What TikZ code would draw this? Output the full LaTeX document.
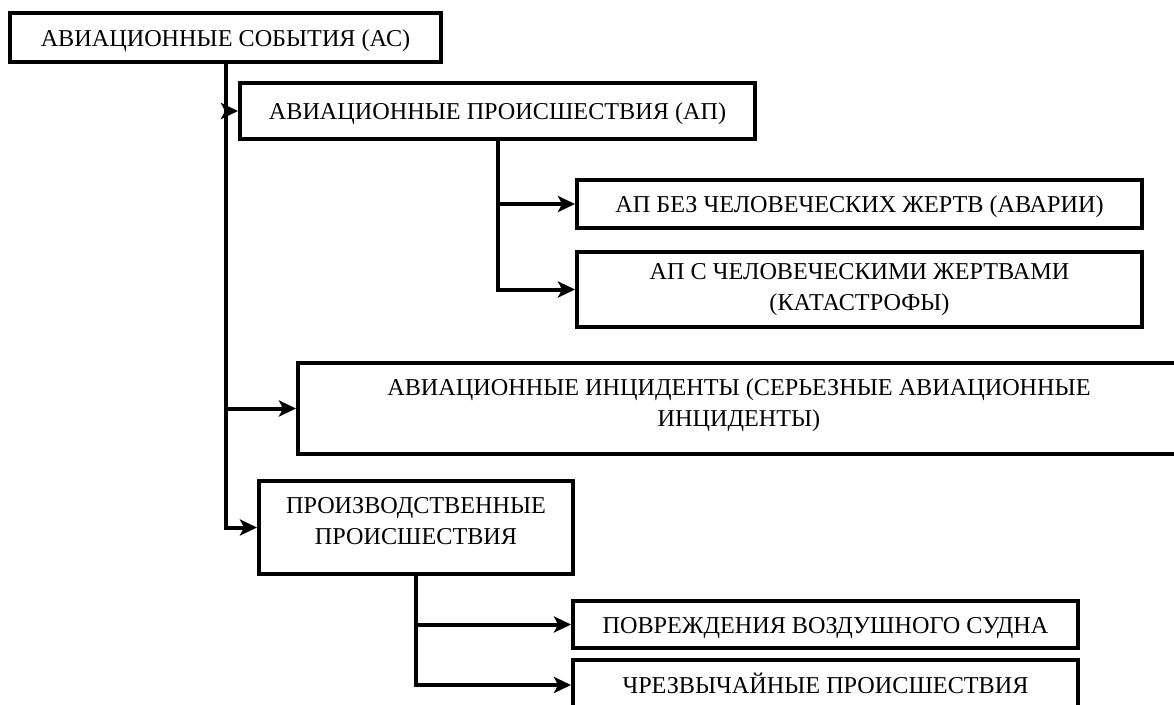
\documentclass[tikz,border=0pt]{standalone}
\usepackage{fontspec}
\setmainfont{Liberation Serif}
\usetikzlibrary{arrows.meta}
\tikzset{
  box/.style={draw=black, line width=4pt, rectangle, inner sep=0pt, align=center,
    font=\fontsize{24.2}{31}\selectfont, fill=white},
  onebox/.style={box, text height=17pt, text depth=0pt},
  arr/.style={line width=4pt, -{Stealth[length=17pt,width=16pt,inset=4pt]}},
  ln/.style={line width=4pt}
}
\begin{document}
\begin{tikzpicture}[x=1pt,y=-1pt]
\useasboundingbox (0,0) rectangle (1174,704);
\clip (0,0) rectangle (1174,704);
\fill[white] (0,0) rectangle (1174,704);
\node[onebox, minimum width=431pt, minimum height=49pt] (B1) at (225.5,37.5) {АВИАЦИОННЫЕ СОБЫТИЯ (АС)};
\node[onebox, minimum width=515pt, minimum height=56pt] (B2) at (497.5,111) {АВИАЦИОННЫЕ ПРОИСШЕСТВИЯ (АП)};
\node[onebox, minimum width=565pt, minimum height=48pt] (B3) at (859.5,204) {АП БЕЗ ЧЕЛОВЕЧЕСКИХ ЖЕРТВ (АВАРИИ)};
\node[box, minimum width=565pt, minimum height=75pt] (B4) at (859.5,289.5) {АП С ЧЕЛОВЕЧЕСКИМИ ЖЕРТВАМИ\\(КАТАСТРОФЫ)};
\node[box, minimum width=882pt, minimum height=91pt] (B5) at (739,408.5) {АВИАЦИОННЫЕ ИНЦИДЕНТЫ (СЕРЬЕЗНЫЕ АВИАЦИОННЫЕ\\ИНЦИДЕНТЫ)\\[-19pt]};
\node[box, minimum width=314pt, minimum height=93pt] (B6) at (416,527.5) {ПРОИЗВОДСТВЕННЫЕ\\ПРОИСШЕСТВИЯ\\[-17pt]};
\node[onebox, minimum width=505pt, minimum height=47pt] (B7) at (825.5,624.5) {ПОВРЕЖДЕНИЯ ВОЗДУШНОГО СУДНА};
\node[onebox, minimum width=505pt, minimum height=50pt] (B8) at (825.5,685) {ЧРЕЗВЫЧАЙНЫЕ ПРОИСШЕСТВИЯ};
% main trunk
\coordinate (t2) at (B1.south |- B2.west);
\coordinate (t5) at (B1.south |- B5.west);
\draw[ln] (B1.south) -- (t2);
\draw[arr] (B1.south) |- (B6.west);
\draw[arr] (t2) -- (B2.west);
\draw[arr] (t5) -- (B5.west);
% AP branch
\coordinate (s3) at (B2.south |- B3.west);
\draw[arr] (B2.south) |- (B4.west);
\draw[arr] (s3) -- (B3.west);
% production branch
\coordinate (s7) at (B6.south |- B7.west);
\draw[arr] (B6.south) |- (B8.west);
\draw[arr] (s7) -- (B7.west);
\end{tikzpicture}
\end{document}
